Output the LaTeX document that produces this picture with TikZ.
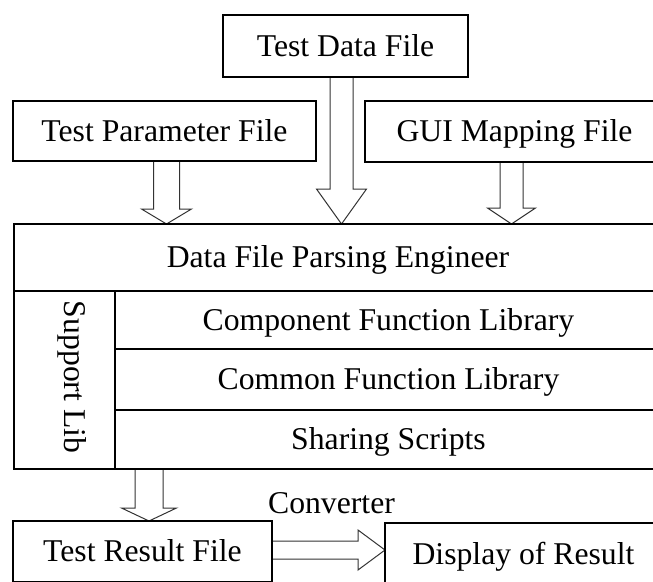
\documentclass[tikz,border=0pt]{standalone}
\usepackage{fontspec}
\setmainfont{Liberation Serif}
\usetikzlibrary{calc,backgrounds}
\tikzset{
  box/.style={draw=black, line width=2.2pt, inner sep=0pt, outer sep=0pt,
    font=\fontsize{31.7}{38}\selectfont, text height=23pt, text depth=3pt},
  cell/.style={box, line width=1.6pt},
  lbl/.style={inner sep=0pt, outer sep=0pt, font=\fontsize{31.7}{38}\selectfont},
  hollow/.style={draw=black!80, line width=1pt, fill=white, line join=miter},
  % hollow block arrow pointing down: shaft half width, head half width, head length
  blockdown/.style n args={3}{to path={
    -- ($(\tikztostart)+(-#1,0)$) -- ($(\tikztotarget)+(-#1,-#3)$)
    -- ($(\tikztotarget)+(-#2,-#3)$) -- (\tikztotarget)
    -- ($(\tikztotarget)+(#2,-#3)$) -- ($(\tikztotarget)+(#1,-#3)$)
    -- ($(\tikztostart)+(#1,0)$) -- cycle}},
  % hollow block arrow pointing right
  blockright/.style n args={3}{to path={
    -- ($(\tikztostart)+(0,-#1)$) -- ($(\tikztotarget)+(-#3,-#1)$)
    -- ($(\tikztotarget)+(-#3,-#2)$) -- (\tikztotarget)
    -- ($(\tikztotarget)+(-#3,#2)$) -- ($(\tikztotarget)+(-#3,#1)$)
    -- ($(\tikztostart)+(0,#1)$) -- cycle}},
}
\begin{document}
\begin{tikzpicture}[x=1pt,y=-1pt]
\useasboundingbox (0,0) rectangle (653,581);
\clip (0,0) rectangle (653,581);

% input files
\node[box, minimum width=245pt, minimum height=62pt] (td) at (345.5,46) {Test Data File};
\node[box, minimum width=303pt, minimum height=60pt] (tpf) at (164.5,131) {Test Parameter File};
\node[box, minimum width=299pt, minimum height=61pt] (gui) at (514.5,131.5) {GUI Mapping File};

% engine block
\node[cell, minimum width=648pt, minimum height=67pt] (parse) at (338,257.5) {Data File Parsing Engineer};
\node[cell, minimum width=101pt, minimum height=178pt] (support) at (64.5,380) {};
\node[lbl, rotate=-90] (suplbl) at (72,377) {Support Lib};
\node[cell, minimum width=547pt, minimum height=58pt] (comp) at (388.5,320) {Component Function Library};
\node[cell, minimum width=547pt, minimum height=61pt] (common) at (388.5,379.5) {Common Function Library};
\node[cell, minimum width=547pt, minimum height=59pt] (share) at (388.5,439.5) {Sharing Scripts};

% outputs
\node[box, minimum width=259pt, minimum height=61pt] (result) at (142.5,551.5) {Test Result File};
\node[box, minimum width=277pt, minimum height=62pt] (display) at (523.5,554) {Display of Result};
\node[lbl, anchor=base] (conv) at (331.5,513) {Converter};

% arrow end points
\coordinate (a1s) at ($(tpf.south)+(2,0)$);
\coordinate (a1e) at (a1s |- parse.north);
\coordinate (a2s) at ($(td.south)+(-4,0)$);
\coordinate (a2e) at (a2s |- parse.north);
\coordinate (a3s) at ($(gui.south)+(-3,0)$);
\coordinate (a3e) at (a3s |- parse.north);
\coordinate (a4e) at ($(result.north)+(6.5,0)$);
\coordinate (a4s) at (a4e |- support.south);
\coordinate (a5s) at ($(result.east)+(0,-1.5)$);
\coordinate (a5e) at (a5s -| display.west);

\begin{scope}[on background layer]
  \fill[white] (0,0) rectangle (653,581);
  \draw[hollow] (a1s) to[blockdown={13}{25}{15}] (a1e);
  \draw[hollow] (a2s) to[blockdown={11.5}{25}{35}] (a2e);
  \draw[hollow] (a3s) to[blockdown={11.5}{24}{16}] (a3e);
  \draw[hollow] (a4s) to[blockdown={14}{27.5}{13}] (a4e);
  \draw[hollow] (a5s) to[blockright={9}{20}{27}] (a5e);
\end{scope}
\end{tikzpicture}
\end{document}
